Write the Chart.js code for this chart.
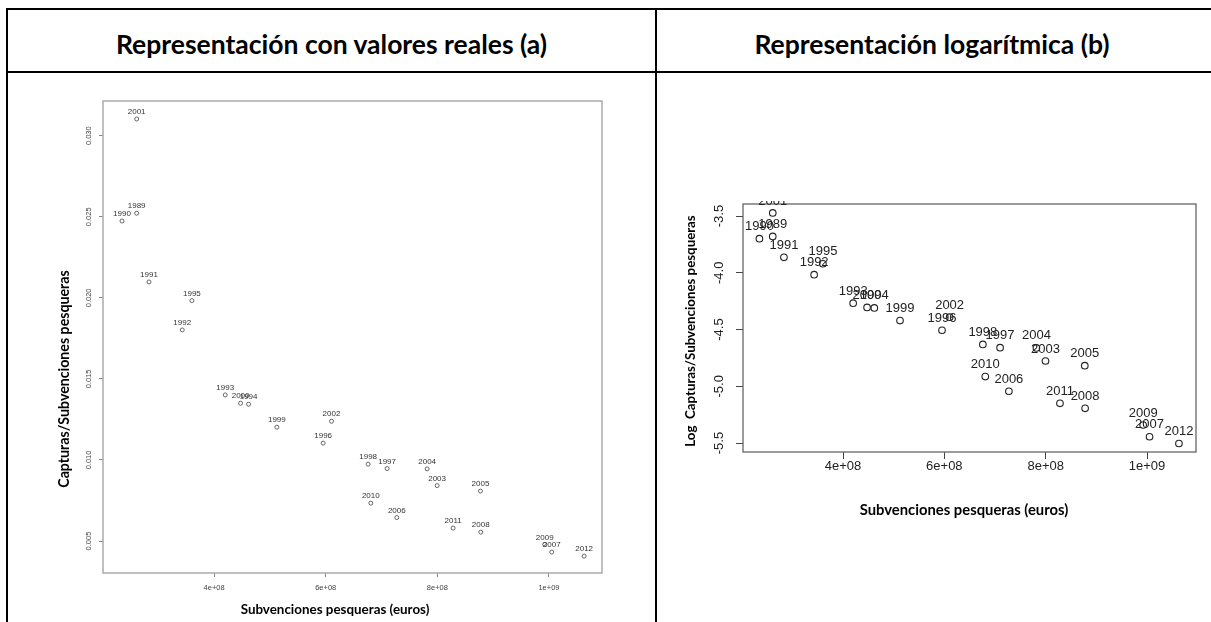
<!DOCTYPE html>
<html>
<head>
<meta charset="utf-8">
<script src="https://cdn.jsdelivr.net/npm/chart.js@4.4.0/dist/chart.umd.min.js"></script>
<style>
  body { margin: 0; background: #fff; width: 1211px; height: 622px; overflow: hidden; position: relative; }
  .rule { position: absolute; background: #000; }
  .head { position: absolute; top: 13px; height: 62px; display: flex; align-items: center; justify-content: center;
          font: bold 26.5px Lato, sans-serif; color: #000; }
  canvas { position: absolute; left: 0; top: 0; }
</style>
</head>
<body>
<div class="rule" style="left:6px;top:8px;width:1205px;height:2px"></div>
<div class="rule" style="left:6px;top:8px;width:2px;height:614px"></div>
<div class="rule" style="left:6px;top:71px;width:1205px;height:2px"></div>
<div class="rule" style="left:655px;top:8px;width:2px;height:614px"></div>
<div class="head" style="left:8px;width:647px">Representación con valores reales (a)</div>
<div class="head" style="left:657px;width:550px">Representación logarítmica (b)</div>
<canvas id="chartReal" width="1211" height="622"></canvas>
<canvas id="chartLog" width="1211" height="622"></canvas>
<script>
// Years, fishing subsidies (euros) and catches/subsidies ratio
const years = [1989, 1990, 1991, 1992, 1993, 1994, 1995, 1996, 1997, 1998, 1999, 2000,
               2001, 2002, 2003, 2004, 2005, 2006, 2007, 2008, 2009, 2010, 2011, 2012];
const subsidies = [2.613e8, 2.35e8, 2.834e8, 3.43e8, 4.2e8, 4.618e8, 3.603e8, 5.954e8, 7.1e8, 6.76e8, 5.125e8, 4.475e8,
                   2.613e8, 6.104e8, 7.996e8, 7.817e8, 8.772e8, 7.274e8, 1.005e9, 8.778e8, 9.924e8, 6.808e8, 8.282e8, 1.063e9];
const ratio = [0.02522, 0.02474, 0.02098, 0.01802, 0.01401, 0.01344, 0.01983, 0.01104, 0.00947, 0.00974, 0.01202, 0.01350,
               0.03103, 0.01239, 0.00842, 0.00945, 0.00808, 0.00645, 0.00432, 0.00555, 0.00479, 0.00734, 0.00580, 0.00407];

const xTicks = [4e8, 6e8, 8e8, 1e9];
const yTicksReal = [0.005, 0.010, 0.015, 0.020, 0.025, 0.030];
const yTicksLog = [-5.5, -5.0, -4.5, -4.0, -3.5];

const logRatio = ratio.map(v => Math.log(v));

// R style scientific labels: 4e+08, 1e+09
function sciLabel(v) {
  const [m, e] = v.toExponential().split('e');
  return m + 'e' + (e[0] === '-' ? '-' : '+') + String(Math.abs(+e)).padStart(2, '0');
}

// frame, rotated y labels, year labels and axis titles
const rLook = {
  id: 'rLook',
  afterDatasetsDraw(chart, args, o) {
    const { ctx, chartArea: a } = chart;
    const ys = chart.scales.y;
    const pts = chart.getDatasetMeta(0).data;
    ctx.save();
    ctx.strokeStyle = o.frameColor;
    ctx.lineWidth = o.frameWidth;
    ctx.strokeRect(a.left, a.top, a.right - a.left, a.bottom - a.top);

    ctx.fillStyle = o.tickColor;
    ctx.font = o.tickFont;
    ctx.textAlign = 'center';
    ctx.textBaseline = 'middle';
    ys.ticks.forEach(t => {
      ctx.save();
      ctx.translate(a.left - o.yLabelGap, ys.getPixelForValue(t.value));
      ctx.rotate(-Math.PI / 2);
      ctx.fillText(o.yFormat(t.value), 0, 0);
      ctx.restore();
    });

    ctx.save();
    ctx.beginPath();
    ctx.rect(0, a.top - o.clipAbove, chart.width, chart.height);
    ctx.clip();
    ctx.fillStyle = o.labelColor;
    ctx.font = o.labelFont;
    pts.forEach((p, i) => ctx.fillText(String(years[i]), p.x, p.y - o.labelLift));
    ctx.restore();

    ctx.fillStyle = '#000';
    ctx.font = o.xTitleFont;
    ctx.fillText(o.xTitle, o.xTitleAt[0], o.xTitleAt[1]);
    ctx.font = o.yTitleFont;
    ctx.translate(o.yTitleAt[0], o.yTitleAt[1]);
    ctx.rotate(-Math.PI / 2);
    ctx.fillText(o.yTitle, 0, 0);
    ctx.restore();
  }
};

function makeChart(id, yValues, c) {
  return new Chart(document.getElementById(id), {
    type: 'scatter',
    data: {
      datasets: [{
        data: subsidies.map((x, i) => ({ x: x, y: yValues[i] })),
        pointStyle: 'circle',
        pointRadius: c.radius,
        pointBorderWidth: c.pointWidth,
        pointBorderColor: c.pointColor,
        pointBackgroundColor: 'rgba(0,0,0,0)'
      }]
    },
    options: {
      responsive: false,
      devicePixelRatio: 1,
      animation: false,
      events: [],
      layout: { padding: c.padding },
      scales: {
        x: {
          type: 'linear', min: c.xMin, max: c.xMax,
          afterBuildTicks: s => { s.ticks = xTicks.map(v => ({ value: v })); },
          afterFit: s => { s.height = 30; },
          border: { display: false },
          grid: { drawOnChartArea: false, tickLength: c.tickLen, color: c.tickMarkColor, lineWidth: 1 },
          ticks: { callback: v => sciLabel(v), color: c.tickColor, padding: c.xPad, maxRotation: 0,
                   font: { family: 'Liberation Sans', size: c.tickSize } }
        },
        y: {
          type: 'linear', min: c.yMin, max: c.yMax,
          afterBuildTicks: s => { s.ticks = c.yTicks.map(v => ({ value: v })); },
          afterFit: s => { s.width = 12; },
          border: { display: false },
          grid: { drawOnChartArea: false, tickLength: c.tickLen, color: c.tickMarkColor, lineWidth: 1 },
          ticks: { display: false }
        }
      },
      plugins: {
        legend: { display: false },
        tooltip: { enabled: false },
        rLook: {
          frameColor: c.frameColor, frameWidth: c.frameWidth,
          tickColor: c.tickColor, tickFont: c.tickSize + 'px "Liberation Sans"',
          yLabelGap: c.yLabelGap, yFormat: c.yFormat,
          labelColor: c.labelColor, labelFont: c.labelSize + 'px "Liberation Sans"',
          labelLift: c.labelLift, clipAbove: c.clipAbove,
          xTitleFont: 'bold ' + c.xTitleSize + 'px Lato', yTitleFont: 'bold ' + c.yTitleSize + 'px Lato',
          xTitle: 'Subvenciones pesqueras (euros)', xTitleAt: c.xTitleAt,
          yTitle: c.yTitle, yTitleAt: c.yTitleAt
        }
      }
    },
    plugins: [rLook]
  });
}

makeChart('chartReal', ratio, {
  padding: { left: 91, top: 101, right: 609, bottom: 19 },
  xMin: 2.01e8, xMax: 1.095e9, yMin: 0.00303, yMax: 0.03214, yTicks: yTicksReal,
  yFormat: v => v.toFixed(3),
  radius: 2, pointWidth: 0.8, pointColor: '#444',
  tickLen: 4, tickMarkColor: '#888', tickColor: '#444', tickSize: 7.5, xPad: 6, yLabelGap: 14,
  frameColor: '#aaa', frameWidth: 1.5,
  labelColor: '#333', labelSize: 8, labelLift: 7, clipAbove: 100,
  xTitleSize: 13.4, yTitleSize: 14.2,
  xTitleAt: [335, 610], yTitle: 'Capturas/Subvenciones pesqueras', yTitleAt: [64, 379]
});

makeChart('chartLog', logRatio, {
  padding: { left: 731, top: 204, right: 15, bottom: 140 },
  xMin: 2.026e8, xMax: 1.0967e9, yMin: -5.579, yMax: -3.394, yTicks: yTicksLog,
  yFormat: v => v.toFixed(1),
  radius: 3.3, pointWidth: 1.1, pointColor: '#222',
  tickLen: 7, tickMarkColor: '#444', tickColor: '#222', tickSize: 13, xPad: 0, yLabelGap: 24,
  frameColor: '#666', frameWidth: 1.3,
  labelColor: '#222', labelSize: 13, labelLift: 12, clipAbove: 3,
  xTitleSize: 14.8, yTitleSize: 13.3,
  xTitleAt: [964, 510], yTitle: 'Log  Capturas/Subvenciones pesqueras', yTitleAt: [691, 331]
});
</script>
</body>
</html>
